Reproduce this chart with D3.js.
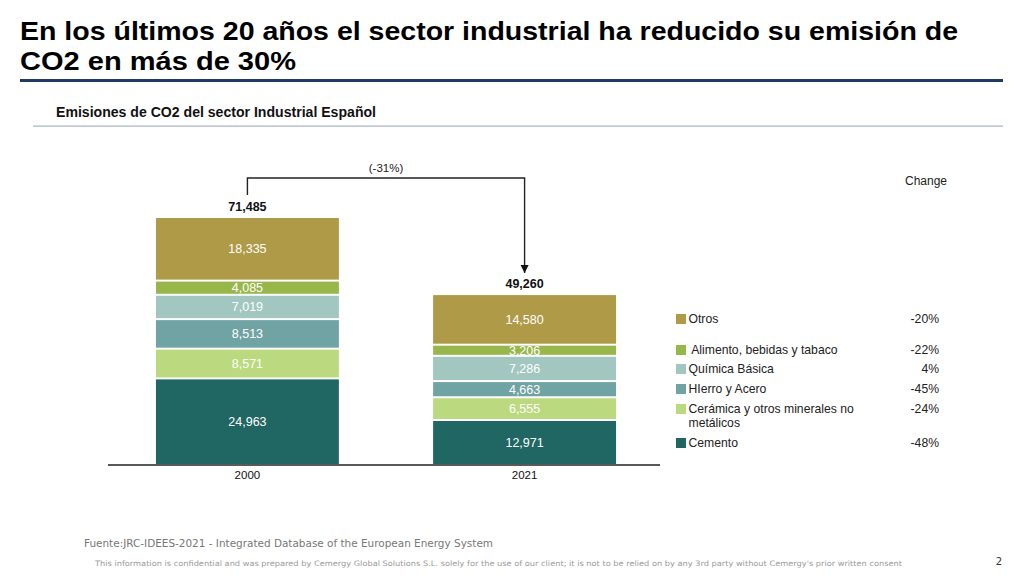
<!DOCTYPE html>
<html>
<head>
<meta charset="utf-8">
<script src="https://cdn.jsdelivr.net/npm/d3@7"></script>
<style>
  body { margin: 0; background: #fff; }
  svg { display: block; font-family: "Liberation Sans", Arial, sans-serif; }
</style>
</head>
<body>
<svg id="chart" width="1024" height="576"></svg>
<script>
const years = ["2000", "2021"];
const sectors = ["Cemento", "Cerámica y otros minerales no metálicos", "HIerro y Acero", "Química Básica", " Alimento, bebidas y tabaco", "Otros"];
const values2000 = [24963, 8571, 8513, 7019, 4085, 18335];
const values2021 = [12971, 6555, 4663, 7286, 3206, 14580];
const totals = [71485, 49260];
const changes = ["-48%", "-24%", "-45%", "4%", "-22%", "-20%"];
const colors = ["#206663", "#bbd97e", "#70a3a3", "#a1c7c0", "#98b74a", "#af9a47"];
const totalChange = "(-31%)";

const svg = d3.select("#chart");

// header
svg.append("text")
  .attr("x", 20).attr("y", 40)
  .attr("font-size", 25.5).attr("font-weight", "bold").attr("fill", "#000")
  .attr("textLength", 938).attr("lengthAdjust", "spacingAndGlyphs")
  .text("En los últimos 20 años el sector industrial ha reducido su emisión de");
svg.append("text")
  .attr("x", 20).attr("y", 70)
  .attr("font-size", 25.5).attr("font-weight", "bold").attr("fill", "#000")
  .attr("textLength", 276).attr("lengthAdjust", "spacingAndGlyphs")
  .text("CO2 en más de 30%");
svg.append("rect").attr("x", 20).attr("y", 79).attr("width", 983).attr("height", 3).attr("fill", "#1f3b64");

svg.append("text")
  .attr("x", 56).attr("y", 117)
  .attr("font-size", 14).attr("font-weight", "bold").attr("fill", "#111")
  .attr("textLength", 320).attr("lengthAdjust", "spacingAndGlyphs")
  .text("Emisiones de CO2 del sector Industrial Español");
svg.append("rect").attr("x", 33).attr("y", 125.5).attr("width", 970).attr("height", 1.2).attr("fill", "#a4b2c4");

// scales
const x = d3.scaleBand()
  .domain(years)
  .range([108, 664])
  .paddingInner(0.34)
  .paddingOuter(0.173);

const y = d3.scaleLinear()
  .domain([0, totals[0]])
  .range([465, 217]);

const series = [values2000, values2021];

years.forEach((yr, i) => {
  let acc = 0;
  const segs = series[i].map((v, k) => {
    const s = { y0: acc, y1: acc + v, v: v, c: colors[k] };
    acc += v;
    return s;
  });
  const g = svg.append("g");
  g.selectAll("rect")
    .data(segs)
    .enter().append("rect")
    .attr("x", x(yr))
    .attr("y", d => y(d.y1) + 1)
    .attr("width", x.bandwidth())
    .attr("height", d => y(d.y0) - y(d.y1) - 2)
    .attr("fill", d => d.c);
  g.selectAll("text")
    .data(segs)
    .enter().append("text")
    .attr("x", x(yr) + x.bandwidth() / 2)
    .attr("y", d => (y(d.y0) + y(d.y1)) / 2 + 4.5)
    .attr("text-anchor", "middle")
    .attr("font-size", 12.5)
    .attr("fill", "#fff")
    .text(d => d3.format(",")(d.v));
  svg.append("text")
    .attr("x", x(yr) + x.bandwidth() / 2)
    .attr("y", y(totals[i]) - 6)
    .attr("text-anchor", "middle")
    .attr("font-size", 12.5).attr("font-weight", "bold").attr("fill", "#111")
    .text(d3.format(",")(totals[i]));
});

// axis
const xAxis = d3.axisBottom(x).tickSize(0).tickPadding(6);
const ax = svg.append("g")
  .attr("transform", `translate(0,${y(0)})`)
  .call(xAxis);
ax.select(".domain").attr("stroke", "#222").attr("stroke-width", 1.6).attr("d", "M0,0H552").attr("transform", "translate(108,0)");
ax.selectAll(".tick text").attr("font-size", 11.5).attr("fill", "#111").attr("font-family", "Liberation Sans, Arial, sans-serif");

// bracket arrow
svg.append("defs").append("marker")
  .attr("id", "arr").attr("viewBox", "0 0 10 10")
  .attr("refX", 10).attr("refY", 5)
  .attr("markerWidth", 6).attr("markerHeight", 6)
  .attr("orient", "auto")
  .append("path").attr("d", "M0,0L10,5L0,10z").attr("fill", "#111");

const cx0 = x("2000") + x.bandwidth() / 2;
const cx1 = x("2021") + x.bandwidth() / 2;
const topY = 178;
svg.append("path")
  .attr("d", `M${cx0},${y(totals[0]) - 22}V${topY}H${cx1}V${y(totals[1]) - 21}`)
  .attr("fill", "none").attr("stroke", "#222").attr("stroke-width", 1.4)
  .attr("marker-end", "url(#arr)");
svg.append("text")
  .attr("x", (cx0 + cx1) / 2).attr("y", topY - 6)
  .attr("text-anchor", "middle").attr("font-size", 11.5).attr("fill", "#222")
  .text(totalChange);

// legend
svg.append("text")
  .attr("x", 926).attr("y", 185)
  .attr("text-anchor", "middle").attr("font-size", 12).attr("fill", "#222")
  .text("Change");

const legendY = [443, 409, 389, 369, 350, 319];
const lg = svg.append("g");
sectors.forEach((s, k) => {
  const ly = legendY[k];
  lg.append("rect")
    .attr("x", 676).attr("y", ly - 5).attr("width", 10).attr("height", 10)
    .attr("fill", colors[k]);
  const t = lg.append("text")
    .attr("x", 688.5).attr("y", ly + 4.2)
    .attr("font-size", 12.2).attr("fill", "#222")
    .attr("xml:space", "preserve");
  if (s.startsWith("Cerámica")) {
    t.append("tspan").attr("x", 688.5).text("Cerámica y otros minerales no");
    t.append("tspan").attr("x", 688.5).attr("dy", 14).text("metálicos");
  } else {
    t.text(s);
  }
  lg.append("text")
    .attr("x", 939).attr("y", ly + 4.2)
    .attr("text-anchor", "end").attr("font-size", 12.2).attr("fill", "#222")
    .text(changes[k]);
});

// footer
svg.append("text")
  .attr("x", 84).attr("y", 547)
  .attr("font-family", "DejaVu Sans, sans-serif").attr("font-size", 10).attr("fill", "#777")
  .attr("textLength", 409).attr("lengthAdjust", "spacingAndGlyphs")
  .text("Fuente:JRC-IDEES-2021 - Integrated Database of the European Energy System");
svg.append("text")
  .attr("x", 95).attr("y", 566)
  .attr("font-family", "DejaVu Sans, sans-serif").attr("font-size", 7.5).attr("fill", "#9a9a9a")
  .attr("textLength", 807).attr("lengthAdjust", "spacingAndGlyphs")
  .text("This information is confidential and was prepared by Cemergy Global Solutions S.L. solely for the use of our client; it is not to be relied on by any 3rd party without Cemergy's prior written consent");
svg.append("text")
  .attr("x", 1002).attr("y", 565)
  .attr("text-anchor", "end")
  .attr("font-family", "DejaVu Sans, sans-serif").attr("font-size", 10).attr("fill", "#333")
  .text("2");
</script>
</body>
</html>
